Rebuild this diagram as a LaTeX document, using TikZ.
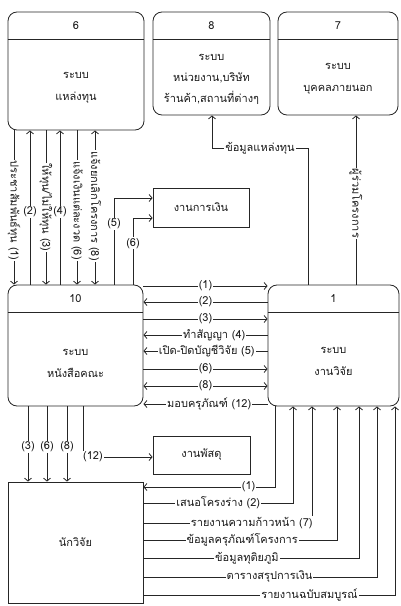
\documentclass[tikz,border=0pt]{standalone}
\usepackage{fontspec}
\setmainfont[Script=Thai]{Loma}
\usetikzlibrary{arrows.meta}
\begin{document}
\begin{tikzpicture}[x=1pt,y=-1pt,
  every node/.style={font=\fontsize{11}{12}\selectfont, text=black!90},
  rbox/.style={draw=black!85, rounded corners=9pt, line width=0.85pt, minimum width=#1, inner sep=0pt},
  sbox/.style={draw=black!85, line width=0.85pt, inner sep=0pt},
  txt/.style={align=center, font=\fontsize{11}{22}\selectfont},
  ln/.style={draw=black!85, line width=0.8pt},
  arr/.style={ln, -{Straight Barb[length=3pt,width=7pt]}},
  barr/.style={ln, {Straight Barb[length=3pt,width=7pt]}-{Straight Barb[length=3pt,width=7pt]}},
  lbl/.style={fill=white, inner sep=1pt},
  vlbl/.style={fill=white, inner sep=1pt, rotate=-90}]
\useasboundingbox (0,0) rectangle (400,606);
% boxes
\node[rbox=136pt, minimum height=118pt] (b6) at (76,71) {};
\node[rbox=117pt, minimum height=103pt] (b8) at (211.5,63.5) {};
\node[rbox=120pt, minimum height=103pt] (b7) at (338,63.5) {};
\node[rbox=135pt, minimum height=121pt] (b10) at (75.5,345.5) {};
\node[rbox=131pt, minimum height=121pt] (b1) at (333.5,345.5) {};
\node[sbox, minimum width=96pt, minimum height=39pt] (fin) at (201,207.5) {};
\node[sbox, minimum width=97pt, minimum height=38pt] (sup) at (201.5,455) {};
\node[sbox, minimum width=135pt, minimum height=121pt] (res) at (75.5,542.5) {};
% header lines
\draw[ln] (b6.west |- 0,39) -- (b6.east |- 0,39);
\draw[ln] (b8.west |- 0,39) -- (b8.east |- 0,39);
\draw[ln] (b7.west |- 0,39) -- (b7.east |- 0,39);
\draw[ln] (b10.west |- 0,312) -- (b10.east |- 0,312);
\draw[ln] (b1.west |- 0,312) -- (b1.east |- 0,312);
% texts
\node (t6n) at (76,26) {6};
\node[txt] (t6) at (76,88) {ระบบ\\แหล่งทุน};
\node (t8n) at (211.5,26) {8};
\node[txt, font=\fontsize{11}{21}\selectfont] (t8) at (211.5,79) {ระบบ\\หน่วยงาน,บริษัท\\ร้านค้า,สถานที่ต่างๆ};
\node (t7n) at (338,26) {7};
\node[txt] (t7) at (338,79) {ระบบ\\บุคคลภายนอก};
\node (t10n) at (75.5,299) {10};
\node[txt] (t10) at (75.5,363) {ระบบ\\หนังสือคณะ};
\node (t1n) at (333.5,299) {1};
\node[txt] (t1) at (333.5,361) {ระบบ\\งานวิจัย};
\node (tfin) at (fin) {งานการเงิน};
\node (tsup) at (sup) {งานพัสดุ};
\node (tres) at (res) {นักวิจัย};
% between 6 and 10
\draw[arr] (b6.south -| 14,0) -- node[vlbl, pos=0.52] {ประชาสัมพันธ์ทุน (1)} (b10.north -| 14,0);
\draw[arr] (b10.north -| 30,0) -- node[lbl, pos=0.47] {(2)} (b6.south -| 30,0);
\draw[arr] (b6.south -| 46,0) -- node[vlbl, pos=0.5] {ให้ทุน/ไม่ให้ทุน (3)} (b10.north -| 46,0);
\draw[arr] (b10.north -| 60,0) -- node[lbl, pos=0.47] {(4)} (b6.south -| 60,0);
\draw[arr] (b6.south -| 77,0) -- node[vlbl, pos=0.52] {แจ้งเงินแต่ละงวด (6)} (b10.north -| 77,0);
\draw[barr] (b6.south -| 95,0) -- node[vlbl, pos=0.49] {แจ้งยกเลิกโครงการ (8)} (b10.north -| 95,0);
% to finance
\draw[arr] (b10.north -| 114,0) |- node[lbl, pos=0.35] {(5)} (fin.west |- 0,198);
\draw[arr] (b10.north -| 133,0) |- node[lbl, pos=0.31] {(6)} (fin.west |- 0,218);
% between 10 and 1
\draw[arr] (b10.east |- 0,286) -- node[lbl] {(1)} (b1.west |- 0,286);
\draw[arr] (b1.west |- 0,302) -- node[lbl] {(2)} (b10.east |- 0,302);
\draw[arr] (b10.east |- 0,319) -- node[lbl] {(3)} (b1.west |- 0,319);
\draw[arr] (b1.west |- 0,335) -- node[lbl, pos=0.43] {ทำสัญญา (4)} (b10.east |- 0,335);
\draw[arr] (b1.west |- 0,351) -- node[lbl, pos=0.49] {เปิด-ปิดบัญชีวิจัย (5)} (b10.east |- 0,351);
\draw[arr] (b10.east |- 0,369) -- node[lbl] {(6)} (b1.west |- 0,369);
\draw[barr] (b10.east |- 0,386) -- node[lbl] {(8)} (b1.west |- 0,386);
\draw[arr] (b1.west |- 0,404) -- node[lbl, pos=0.47] {มอบครุภัณฑ์ (12)} (b10.east |- 0,404);
% top of 1
\draw[arr] (b1.north -| 308,0) -- (308,148) -- node[lbl] {ข้อมูลแหล่งทุน} (212,148) -- (b8.south -| 212,0);
\draw[arr] (b1.north -| 356,0) -- node[vlbl, pos=0.48] {ผู้ร่วมโครงการ} (b7.south -| 356,0);
% bottom of 10
\draw[arr] (b10.south -| 28,0) -- node[lbl, pos=0.54] {(3)} (res.north -| 28,0);
\draw[arr] (b10.south -| 47,0) -- node[lbl, pos=0.54] {(6)} (res.north -| 47,0);
\draw[arr] (b10.south -| 67,0) -- node[lbl, pos=0.54] {(8)} (res.north -| 67,0);
\draw[arr] (b10.south -| 83,0) |- node[lbl, pos=0.5, xshift=10pt] {(12)} (sup.west |- 0,457);
% researcher to 1
\draw[arr] (b1.south -| 275,0) |- node[lbl, pos=0.6] {(1)} (res.east |- 0,487);
\draw[arr] (res.east |- 0,503) -| node[lbl, pos=0.25] {เสนอโครงร่าง (2)} (b1.south -| 293,0);
\draw[arr] (res.east |- 0,523) -| node[lbl, pos=0.5, anchor=east, xshift=2pt] {รายงานความก้าวหน้า (7)} (b1.south -| 312,0);
\draw[arr] (res.east |- 0,540) -| node[lbl, pos=0.255] {ข้อมูลครุภัณฑ์โครงการ} (b1.south -| 337,0);
\draw[arr] (res.east |- 0,558) -| node[lbl, pos=0.24] {ข้อมูลทุติยภูมิ} (b1.south -| 359,0);
\draw[arr] (res.east |- 0,577) -| node[lbl, pos=0.27] {ตารางสรุปการเงิน} (b1.south -| 377,0);
\draw[arr] (res.east |- 0,595) -| node[lbl, pos=0.33] {รายงานฉบับสมบูรณ์} (b1.south -| 395,0);
\end{tikzpicture}
\end{document}
